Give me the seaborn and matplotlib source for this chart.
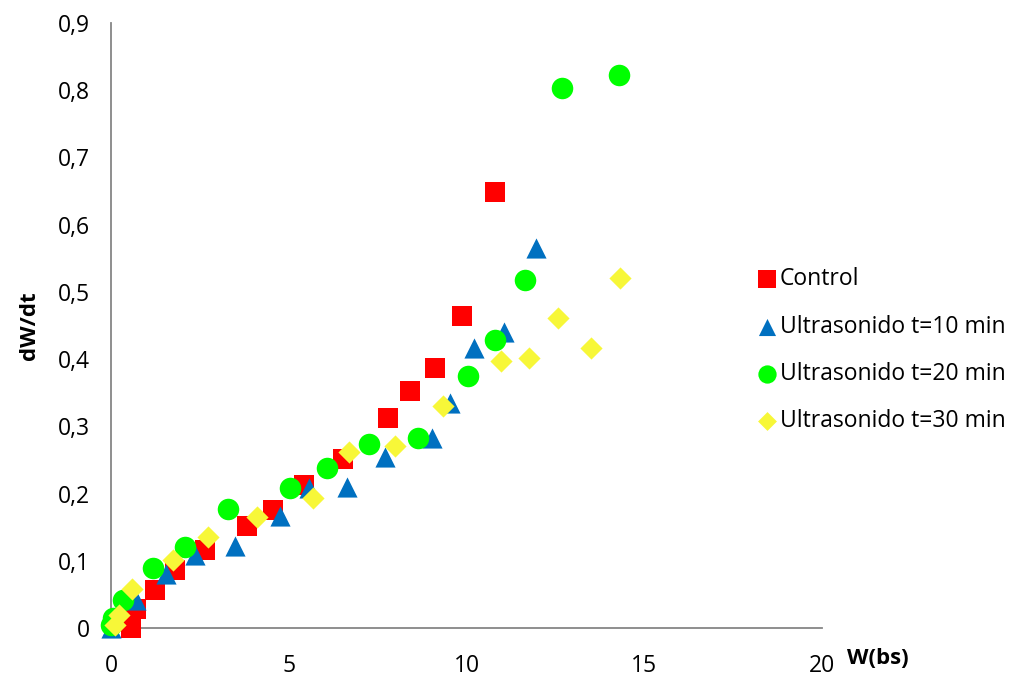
import numpy as np
import pandas as pd
import matplotlib
matplotlib.use("Agg")
import matplotlib.pyplot as plt
from matplotlib.ticker import FixedLocator, FuncFormatter
import seaborn as sns

# Drying-rate curves: dW/dt against moisture content W (dry basis)
series_names = ["Control", "Ultrasonido t=10 min",
                "Ultrasonido t=20 min", "Ultrasonido t=30 min"]

control_w = [0.56, 0.70, 1.25, 1.80, 2.64, 3.82, 4.56, 5.43, 6.53, 7.78,
             8.41, 9.11, 9.87, 10.80]
control_r = [0.000, 0.028, 0.056, 0.086, 0.116, 0.151, 0.176, 0.213, 0.251,
             0.312, 0.352, 0.387, 0.464, 0.648]

us10_w = [0.00, 0.70, 1.55, 2.36, 3.49, 4.75, 5.57, 6.63, 7.70, 9.02,
          9.53, 10.21, 11.06, 11.94]
us10_r = [0.000, 0.042, 0.081, 0.109, 0.122, 0.166, 0.208, 0.210, 0.255,
          0.282, 0.334, 0.416, 0.441, 0.565]

us20_w = [0.00, 0.05, 0.35, 1.19, 2.08, 3.28, 5.03, 6.08, 7.26, 8.64,
          10.04, 10.80, 11.65, 12.68, 14.29]
us20_r = [0.005, 0.015, 0.042, 0.089, 0.121, 0.177, 0.208, 0.238, 0.273,
          0.282, 0.375, 0.429, 0.518, 0.804, 0.822]

us30_w = [0.10, 0.22, 0.60, 1.75, 2.74, 4.10, 5.68, 6.69, 8.00, 9.34,
          10.98, 11.77, 12.58, 13.49, 14.32]
us30_r = [0.004, 0.020, 0.058, 0.101, 0.136, 0.165, 0.193, 0.262, 0.270,
          0.330, 0.397, 0.401, 0.461, 0.417, 0.521]

x_ticks = [0, 5, 10, 15, 20]
y_ticks = [0, 0.1, 0.2, 0.3, 0.4, 0.5, 0.6, 0.7, 0.8, 0.9]

frames = []
for name, w, r in zip(series_names,
                      [control_w, us10_w, us20_w, us30_w],
                      [control_r, us10_r, us20_r, us30_r]):
    frames.append(pd.DataFrame({"W": w, "rate": r, "serie": name}))
df = pd.concat(frames, ignore_index=True)

palette = {"Control": "#FF0000", "Ultrasonido t=10 min": "#0070C0",
           "Ultrasonido t=20 min": "#00FF00", "Ultrasonido t=30 min": "#F7F738"}
markers = {"Control": "s", "Ultrasonido t=10 min": "^",
           "Ultrasonido t=20 min": "o", "Ultrasonido t=30 min": "D"}
sizes_pt = {"Control": 14.5, "Ultrasonido t=10 min": 14.5,
            "Ultrasonido t=20 min": 15.5, "Ultrasonido t=30 min": 11.3}

sns.set_theme(style="white")
plt.rcParams["font.family"] = ["Open Sans", "DejaVu Sans"]

fig = plt.figure(figsize=(10.14, 6.84), dpi=100)
ax = fig.add_axes([0.1095, 0.0819, 0.7012, 0.8845])

# draw each series in order so later ones sit on top
for name in series_names:
    sub = df[df["serie"] == name]
    sns.scatterplot(data=sub, x="W", y="rate", ax=ax, color=palette[name],
                    marker=markers[name], s=sizes_pt[name] ** 2,
                    linewidth=0, label=name, legend=False, zorder=3,
                    clip_on=False)

ax.set_xlim(0, 20)
ax.set_ylim(0, 0.9)
ax.xaxis.set_major_locator(FixedLocator(x_ticks))
ax.yaxis.set_major_locator(FixedLocator(y_ticks))
ax.xaxis.set_major_formatter(FuncFormatter(lambda v, p: f"{v:g}"))
ax.yaxis.set_major_formatter(
    FuncFormatter(lambda v, p: "0" if abs(v) < 1e-9 else f"{v:.1f}".replace(".", ",")))

grey = "#868686"
for side in ["top", "right"]:
    ax.spines[side].set_visible(False)
for side in ["left", "bottom"]:
    ax.spines[side].set_color(grey)
    ax.spines[side].set_linewidth(1.3)
    ax.spines[side].set_zorder(1)
ax.tick_params(axis="both", direction="out", length=4.5, width=1.3,
               color=grey, labelsize=16.5, labelcolor="black")
ax.tick_params(axis="x", pad=14)
ax.tick_params(axis="y", pad=11)
ax.grid(False)

ax.set_xlabel("W(bs)", fontsize=16, fontweight="bold", color="black")
ax.xaxis.label.set_va("center")
ax.xaxis.set_label_coords(1.079, -0.05)
ax.set_ylabel("dW/dt", fontsize=16, fontweight="bold", color="black")
ax.yaxis.label.set_va("center")
ax.yaxis.set_label_coords(-0.114, 0.50)

handles, labels = ax.get_legend_handles_labels()
leg = ax.legend(handles, labels, loc="center left",
                bbox_to_anchor=(0.894, 0.459), frameon=False,
                fontsize=16.5, handletextpad=0.05, labelspacing=1.02,
                markerscale=0.85, handlelength=1.0, borderaxespad=0)
for t in leg.get_texts():
    t.set_color("black")

fig.savefig("out.png", dpi=100, facecolor="white")
